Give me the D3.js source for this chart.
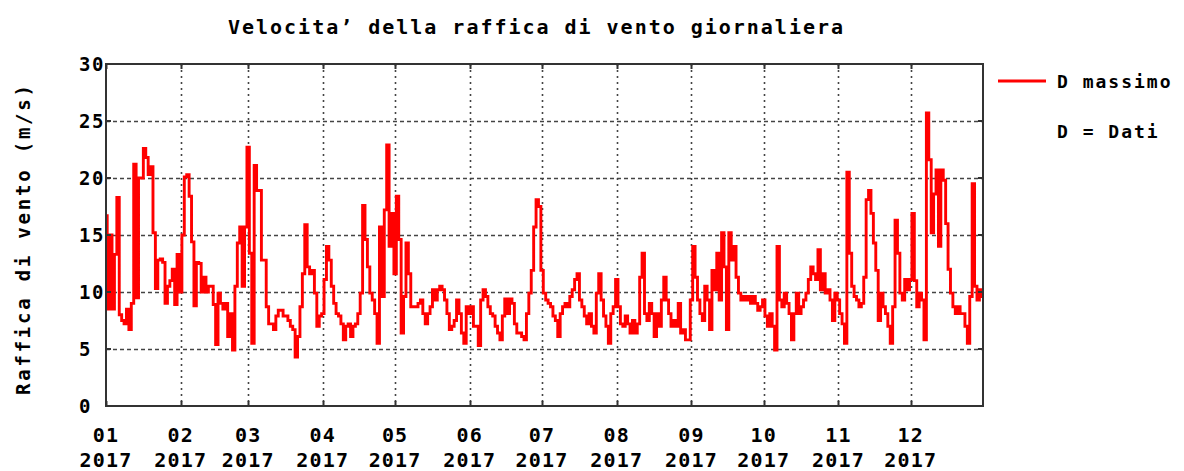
<!DOCTYPE html>
<html>
<head>
<meta charset="utf-8">
<script src="https://cdn.jsdelivr.net/npm/d3@7.9.0/dist/d3.min.js"></script>
<style>
  body { margin: 0; background: #fff; }
  svg text { font-family: "DejaVu Sans Mono", monospace; font-weight: bold; fill: #000; }
</style>
</head>
<body>
<svg id="chart" width="1184" height="471"></svg>
<script>
// raffica massima giornaliera (m/s), un array per mese
const gen = [16.7, 8.5, 15.0, 8.5, 13.3, 18.3, 8.0, 7.5, 7.2, 8.5, 6.7, 9.0, 21.2, 9.5, 20.0, 20.0, 22.6, 21.8, 20.3, 21.0, 15.2, 10.3, 12.8, 12.9, 12.6, 9.0, 10.5, 11.0, 12.0, 8.9, 13.3];
const feb = [10.0, 15.0, 20.1, 20.3, 18.4, 14.4, 8.8, 12.6, 12.5, 10.0, 11.3, 10.0, 10.5, 10.5, 8.9, 5.4, 9.9, 9.0, 8.5, 9.0, 6.1, 8.1, 4.9, 10.5, 14.3, 15.7, 10.5, 15.7];
const mar = [22.7, 13.4, 5.5, 21.1, 18.9, 18.9, 12.8, 12.8, 8.7, 7.2, 7.2, 6.7, 7.9, 8.4, 8.4, 7.9, 7.9, 7.5, 7.0, 6.7, 4.3, 6.1, 8.7, 11.6, 15.9, 12.2, 11.6, 11.9, 9.9, 7.0, 7.9];
const apr = [8.1, 11.1, 14.0, 12.8, 10.5, 9.0, 8.1, 7.9, 7.2, 5.8, 7.0, 7.2, 6.1, 7.0, 7.2, 8.1, 9.9, 17.6, 14.6, 12.2, 9.9, 9.3, 8.1, 5.5, 15.7, 9.6, 17.2, 22.9, 14.0, 16.9];
const mag = [11.6, 18.4, 14.6, 6.4, 9.6, 14.3, 11.6, 8.7, 8.7, 8.7, 9.0, 9.3, 8.1, 7.2, 8.1, 8.7, 10.2, 9.3, 10.2, 10.5, 10.2, 9.3, 8.1, 6.7, 7.0, 7.5, 9.3, 8.1, 6.4, 5.5, 8.7];
const giu = [8.1, 8.7, 7.0, 7.0, 5.3, 9.3, 10.2, 9.6, 8.7, 8.1, 7.9, 7.0, 6.4, 5.8, 7.9, 9.4, 8.1, 9.4, 9.0, 7.2, 6.4, 6.4, 6.1, 5.8, 8.1, 9.9, 11.9, 15.7, 18.1, 17.5];
const lug = [11.9, 9.9, 9.3, 9.0, 8.7, 7.9, 7.5, 6.1, 8.1, 8.7, 9.0, 8.7, 9.6, 10.2, 11.1, 11.6, 9.3, 8.7, 7.9, 7.2, 8.1, 7.0, 6.4, 9.9, 11.6, 9.3, 7.9, 7.0, 5.5, 8.1, 8.7];
const ago = [11.1, 8.7, 7.2, 7.0, 7.9, 7.2, 6.4, 7.5, 6.4, 7.2, 11.3, 13.4, 8.1, 7.5, 9.0, 8.1, 6.1, 8.1, 7.0, 9.3, 11.3, 9.3, 8.1, 7.0, 7.5, 7.0, 9.0, 6.4, 6.7, 5.8, 5.8];
const sett = [9.3, 14.0, 11.3, 9.3, 8.1, 7.5, 10.5, 9.3, 6.7, 11.9, 10.2, 13.4, 9.3, 15.2, 12.2, 6.7, 15.2, 12.8, 14.0, 11.3, 9.9, 9.3, 9.6, 9.3, 9.6, 9.0, 9.6, 9.0, 8.4, 8.7];
const ott = [9.3, 7.9, 7.0, 8.1, 7.0, 4.9, 14.0, 9.3, 8.7, 9.9, 9.0, 8.1, 5.8, 8.1, 9.9, 8.1, 8.7, 9.3, 9.9, 11.1, 12.2, 11.6, 11.1, 13.7, 10.2, 11.6, 9.9, 10.2, 9.3, 7.5, 9.9];
const nov = [9.3, 8.1, 7.2, 5.5, 20.5, 13.4, 10.5, 9.6, 9.3, 8.7, 9.0, 11.3, 18.1, 18.9, 16.9, 14.3, 11.9, 7.5, 9.9, 8.7, 8.1, 7.0, 5.5, 8.7, 16.3, 13.4, 9.9, 9.3, 11.1, 10.2];
const dic = [11.1, 16.9, 11.0, 8.7, 9.9, 9.3, 5.8, 25.7, 21.6, 15.2, 18.6, 20.7, 14.0, 20.7, 19.8, 16.0, 12.0, 9.9, 8.7, 8.1, 8.7, 8.1, 8.1, 7.0, 5.5, 9.6, 19.5, 10.5, 9.3, 10.2, 9.6];

const yTicks = [0, 5, 10, 15, 20, 25, 30];
const anno = 2017;

const valori = [].concat(gen, feb, mar, apr, mag, giu, lug, ago, sett, ott, nov, dic);
const dati = valori.map((v, i) => ({ data: new Date(anno, 0, 1 + i), v: v }));

const svg = d3.select('#chart');
const x0 = 106, x1 = 983, y0 = 64, y1 = 406;

const x = d3.scaleTime().domain([new Date(anno, 0, 1), new Date(anno, 11, 31)]).range([x0, x1]);
const y = d3.scaleLinear().domain([0, 30]).range([y1, y0]);
const mesi = d3.timeMonths(new Date(anno, 0, 1), new Date(anno, 11, 31));

svg.append('rect').attr('width', 1184).attr('height', 471).attr('fill', '#fff');

// griglia
svg.append('g').selectAll('line').data(yTicks.filter(t => t > 0 && t < 30)).enter().append('line')
    .attr('x1', x0).attr('x2', x1)
    .attr('y1', d => Math.round(y(d)) + 0.5).attr('y2', d => Math.round(y(d)) + 0.5)
    .attr('stroke', '#444').attr('stroke-width', 1.5).attr('stroke-dasharray', '4,3');
svg.append('g').selectAll('line').data(mesi.slice(1)).enter().append('line')
    .attr('x1', d => Math.round(x(d)) + 0.5).attr('x2', d => Math.round(x(d)) + 0.5)
    .attr('y1', y0).attr('y2', y1)
    .attr('stroke', '#444').attr('stroke-width', 1.6).attr('stroke-dasharray', '2,4');

// serie
const linea = d3.line().x(d => x(d.data)).y(d => y(d.v)).curve(d3.curveStep);
svg.append('path').datum(dati)
    .attr('d', linea)
    .attr('fill', 'none').attr('stroke', '#ff0000').attr('stroke-width', 2.9)
    .attr('stroke-linejoin', 'miter');

// cornice e tacche
svg.append('rect').attr('x', x0).attr('y', y0).attr('width', x1 - x0).attr('height', y1 - y0)
    .attr('fill', 'none').attr('stroke', '#333').attr('stroke-width', 2);
const tacche = svg.append('g').attr('stroke', '#333').attr('stroke-width', 2);
yTicks.forEach(t => {
    tacche.append('line').attr('x1', x0).attr('x2', x0 + 5).attr('y1', y(t)).attr('y2', y(t));
    tacche.append('line').attr('x1', x1 - 5).attr('x2', x1).attr('y1', y(t)).attr('y2', y(t));
});
mesi.forEach(m => {
    const px = Math.round(x(m)) + 0.5;
    tacche.append('line').attr('x1', px).attr('x2', px).attr('y1', y1).attr('y2', y1 - 5);
    tacche.append('line').attr('x1', px).attr('x2', px).attr('y1', y0).attr('y2', y0 + 5);
});

// etichette asse y
svg.append('g').selectAll('text').data(yTicks).enter().append('text')
    .attr('x', 79).attr('y', d => y(d) + 7)
    .attr('font-size', 19).attr('letter-spacing', 1.5)
    .text(d => d);

// etichette asse x
const fmtMese = d3.timeFormat('%m'), fmtAnno = d3.timeFormat('%Y');
const lab = svg.append('g').selectAll('text').data(mesi).enter().append('text')
    .attr('text-anchor', 'middle').attr('font-size', 20).attr('letter-spacing', 1.2);
lab.append('tspan').attr('x', d => x(d)).attr('y', 442).text(d => fmtMese(d));
lab.append('tspan').attr('x', d => x(d)).attr('y', 467).text(d => fmtAnno(d));

// titolo
svg.append('text').attr('x', 228).attr('y', 34)
    .attr('font-size', 20).attr('textLength', 615).attr('lengthAdjust', 'spacing')
    .text("Velocita\u2019 della raffica di vento giornaliera");

// titolo asse y
svg.append('text')
    .attr('transform', 'translate(30,395) rotate(-90)')
    .attr('font-size', 19).attr('textLength', 310).attr('lengthAdjust', 'spacing')
    .text('Raffica di vento (m/s)');

// legenda
svg.append('line').attr('x1', 998).attr('x2', 1046).attr('y1', 81).attr('y2', 81)
    .attr('stroke', '#ff0000').attr('stroke-width', 2.9);
svg.append('text').attr('x', 1057).attr('y', 88).attr('font-size', 18).attr('letter-spacing', 2)
    .text('D massimo');
svg.append('text').attr('x', 1057).attr('y', 138).attr('font-size', 18).attr('letter-spacing', 2)
    .text('D = Dati');
</script>
</body>
</html>
